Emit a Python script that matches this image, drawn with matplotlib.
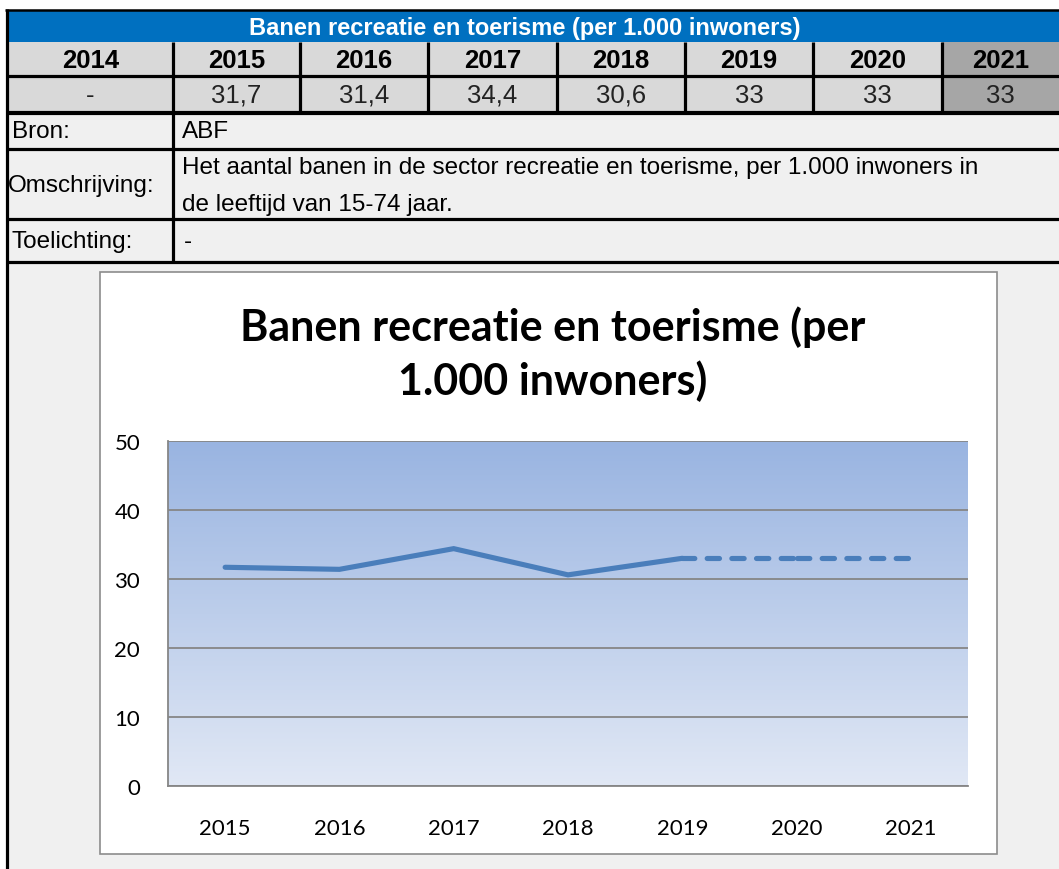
import matplotlib
matplotlib.use('Agg')
import matplotlib.pyplot as plt
import numpy as np
from matplotlib.patches import Rectangle
from matplotlib.colors import LinearSegmentedColormap

# ---------------------------------------------
# DATA
# ---------------------------------------------
table_title = 'Banen recreatie en toerisme (per 1.000 inwoners)'
table_years = ['2014', '2015', '2016', '2017', '2018', '2019', '2020', '2021']
table_values = [None, 31.7, 31.4, 34.4, 30.6, 33, 33, 33]
bron = 'ABF'
omschrijving = ['Het aantal banen in de sector recreatie en toerisme, per 1.000 inwoners in',
                'de leeftijd van 15-74 jaar.']
toelichting = '-'

chart_title = 'Banen recreatie en toerisme (per\n1.000 inwoners)'
chart_years = ['2015', '2016', '2017', '2018', '2019', '2020', '2021']
chart_values = [31.7, 31.4, 34.4, 30.6, 33, 33, 33]
n_solid = 5          # 2015-2019 solid, rest dashed
y_ticks = [0, 10, 20, 30, 40, 50]

# ---------------------------------------------
# LAYOUT (pixels)
# ---------------------------------------------
W, H = 1059, 870
col_edges = [8, 173, 300, 428, 557, 685, 813, 942, W]
BLUE = '#0070c0'
HEAD = '#d9d9d9'
HEAD_LAST = '#a6a6a6'
PANEL = '#f0f0f0'
LINE_C = '#4a7ebb'
TFONT = 'Liberation Sans'
FS = 17.5

fig = plt.figure(figsize=(W / 100, H / 100), dpi=100)
bg = fig.add_axes([0, 0, 1, 1])
bg.set_xlim(0, W)
bg.set_ylim(H, 0)
bg.axis('off')


def rect(x0, y0, x1, y1, fc, ec='none', lw=0, z=1):
    bg.add_patch(Rectangle((x0, y0), x1 - x0, y1 - y0, fc=fc, ec=ec, lw=lw, zorder=z))


def hline(y, x0=7, x1=W, lw=2.3):
    bg.plot([x0, x1], [y, y], color='black', lw=lw, solid_capstyle='butt', zorder=5)


def vline(x, y0, y1, lw=2.3):
    bg.plot([x, x], [y0, y1], color='black', lw=lw, solid_capstyle='butt', zorder=5)


# backgrounds
rect(8, 113, W, H, PANEL)
rect(8, 12, W, 43, BLUE)
for i in range(len(table_years)):
    c = HEAD_LAST if i == len(table_years) - 1 else HEAD
    rect(col_edges[i], 43, col_edges[i + 1], 113, c)

# table title
bg.text(525, 28, table_title, color='white', fontsize=17, fontweight='bold',
        family=TFONT, ha='center', va='center', zorder=6)

# header + values row
for i, (yr, v) in enumerate(zip(table_years, table_values)):
    cx = (col_edges[i] + col_edges[i + 1]) / 2
    bg.text(cx, 61, yr, fontsize=18.5, fontweight='bold', family=TFONT,
            ha='center', va='center', zorder=6)
    s = '-' if v is None else f'{v:g}'.replace('.', ',')
    bg.text(cx, 96, s, fontsize=18.5, family=TFONT,
            ha='center', va='center', color='#222222', zorder=6)

# info rows
bg.text(12, 132, 'Bron:', fontsize=FS, family=TFONT, va='center', zorder=6)
bg.text(182, 132, bron, fontsize=FS, family=TFONT, va='center', zorder=6)
bg.text(8, 186, 'Omschrijving:', fontsize=FS, family=TFONT, va='center', zorder=6)
bg.text(182, 168, omschrijving[0], fontsize=FS, family=TFONT, va='center', zorder=6)
bg.text(182, 205, omschrijving[1], fontsize=FS, family=TFONT, va='center', zorder=6)
bg.text(12, 242, 'Toelichting:', fontsize=FS, family=TFONT, va='center', zorder=6)
bg.text(184, 242, toelichting, fontsize=FS, family=TFONT, va='center', zorder=6)

# grid lines of the table
hline(11, 5, W, lw=1.8)
vline(7, 10, H)
hline(77)
hline(114, lw=3.0)
hline(150)
hline(220)
hline(263)
for x in col_edges[1:-1]:
    vline(x, 43, 114)
vline(173, 114, 263)

# chart box
rect(100, 273, 997, 855, 'white', ec='#8c8c8c', lw=1.2, z=2)
bg.text(553, 354, chart_title, fontsize=31, fontweight='bold', family='Lato',
        ha='center', va='center', linespacing=1.35, zorder=6)

# ---------------------------------------------
# LINE CHART
# ---------------------------------------------
ax = fig.add_axes([168 / W, 1 - 787 / H, 800 / W, 345 / H])
ax.set_zorder(3)
x = np.arange(len(chart_years))
ax.set_xlim(-0.5, len(chart_years) - 0.5)
ax.set_ylim(y_ticks[0], y_ticks[-1])

grad = LinearSegmentedColormap.from_list('g', ['#e1e8f5', '#99b4e1'])
ax.imshow(np.linspace(0, 1, 256).reshape(-1, 1), cmap=grad, origin='lower', aspect='auto',
          extent=[-0.5, len(chart_years) - 0.5, y_ticks[0], y_ticks[-1]], zorder=0)

ax.set_yticks(y_ticks)
ax.yaxis.grid(True, color='#868686', lw=1.3)
ax.set_axisbelow(False)
for gl in ax.get_ygridlines():
    gl.set_zorder(1)

ax.plot(x[:n_solid], chart_values[:n_solid], color=LINE_C, lw=3.7,
        solid_capstyle='round', solid_joinstyle='miter', zorder=4)
for i in range(n_solid - 1, len(chart_years) - 1):
    ax.plot(x[i:i + 2], chart_values[i:i + 2], color=LINE_C, lw=3.7,
            linestyle=(0, (2.4, 2.4)), dash_capstyle='round', zorder=4)

ax.set_xticks(x)
ax.set_xticklabels(chart_years)
for s in ['top', 'right']:
    ax.spines[s].set_visible(False)
for s in ['left', 'bottom']:
    ax.spines[s].set_color('#868686')
    ax.spines[s].set_linewidth(1.3)
ax.tick_params(length=0, labelsize=16)
ax.tick_params(axis='y', pad=20)
ax.tick_params(axis='x', pad=23)
for lab in ax.get_xticklabels() + ax.get_yticklabels():
    lab.set_family('Lato')

fig.savefig('out.png', dpi=100)
